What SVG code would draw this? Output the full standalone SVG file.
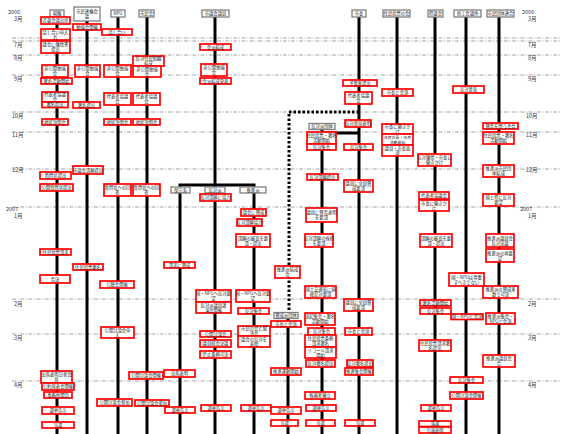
<svg xmlns="http://www.w3.org/2000/svg" width="565" height="434" viewBox="0 0 565 434">
<style>
.b{fill:#fff;stroke:#f00;stroke-width:1.7}
.h{fill:#fff;stroke:#808080;stroke-width:1.3}
text{font-family:"Noto Sans CJK JP","Noto Sans",sans-serif;fill:#222}
.t{font-size:4.3px;text-anchor:middle}
.s{font-size:3.9px}
.ml{font-size:5.5px;fill:#333}
.v{stroke:#000;stroke-width:3;fill:none}
.d{stroke:#000;stroke-width:3;fill:none;stroke-dasharray:2.5 2}
.m{stroke:#9a9a9a;stroke-width:0.9;stroke-dasharray:4 1.6 1 1.6;fill:none}
</style>
<rect width="565" height="434" fill="#fff"/>
<g id="months">
<path class="m" d="M12 38H560M12 41H560M12 55H560M12 75H560M12 112H560M12 132H560M12 169H560M12 207H560M12 299H560M12 334H560M12 381H560"/>
<text class="ml" x="8" y="14">2006</text><text class="ml" x="14" y="20.5">3月</text>
<text class="ml" x="14" y="47">7月</text><text class="ml" x="14" y="60">8月</text><text class="ml" x="14" y="81">9月</text>
<text class="ml" x="12" y="118">10月</text><text class="ml" x="12" y="137">11月</text><text class="ml" x="12" y="172">12月</text>
<text class="ml" x="6" y="211">2007</text><text class="ml" x="14" y="217.5">1月</text>
<text class="ml" x="14" y="306">2月</text><text class="ml" x="14" y="340">3月</text><text class="ml" x="14" y="387">4月</text>
<text class="ml" x="522" y="14">2006</text><text class="ml" x="528" y="20.5">3月</text>
<text class="ml" x="528" y="47">7月</text><text class="ml" x="528" y="60">8月</text><text class="ml" x="528" y="81">9月</text>
<text class="ml" x="526" y="118">10月</text><text class="ml" x="526" y="137">11月</text><text class="ml" x="526" y="172">12月</text>
<text class="ml" x="520" y="211">2007</text><text class="ml" x="528" y="217.5">1月</text>
<text class="ml" x="528" y="306">2月</text><text class="ml" x="528" y="340">3月</text><text class="ml" x="528" y="387">4月</text>
</g>
<g id="connectors">
<path class="v" d="M57 17V434M87 21V434M118 17V434M147 17V434M215 17V434M359 17V434M397 17V434M435 17V434M466 17V434M499 17V434"/>
<path class="v" d="M180 185V434M254 185V434M178.5 185H255.5"/>
<path class="v" d="M322 129V434M322 133H360"/>
<path class="v" d="M288 318V434"/>
<path class="d" d="M289 112H358M289 114V313"/>
</g>
<g id="h1"><rect class="h" x="50" y="10" width="14" height="7"/><text class="t" x="57" y="15.3">現職</text></g>
<g id="h2"><rect class="h" x="74" y="7" width="26" height="14"/><text class="t" x="87" y="12.5">市民連絡会</text><text class="t" x="87" y="18">議</text></g>
<g id="h3"><rect class="h" x="111" y="10" width="14" height="7"/><text class="t" x="118" y="15.3">NPO</text></g>
<g id="h4"><rect class="h" x="139" y="10" width="15" height="7"/><text class="t" x="146.5" y="15.3">市民会</text></g>
<g id="h5"><rect class="h" x="202" y="10" width="27" height="7"/><text class="t" x="215.5" y="15.3">市議会議員</text></g>
<g id="h6"><rect class="h" x="352" y="10" width="14" height="7"/><text class="t" x="359" y="15.3">市長</text></g>
<g id="h7"><rect class="h" x="383" y="10" width="27" height="7"/><text class="t" x="396.5" y="15.3">住民投票の会</text></g>
<g id="h8"><rect class="h" x="428" y="10" width="15" height="7"/><text class="t" x="435.5" y="15.3">県議会</text></g>
<g id="h9"><rect class="h" x="454" y="10" width="27" height="7"/><text class="t" x="467.5" y="15.3">商工会議所</text></g>
<g id="h10"><rect class="h" x="487" y="10" width="27" height="7"/><text class="t" x="500.5" y="15.3">市民団体連合</text></g>
<g id="h11"><rect class="h" x="171" y="187" width="19" height="6"/><text class="t" x="180.5" y="191.6">保守系</text></g>
<g id="h12"><rect class="h" x="205" y="187" width="20" height="6"/><text class="t" x="215" y="191.6">反対派</text></g>
<g id="h13"><rect class="h" x="240" y="187" width="26" height="6"/><text class="t" x="253" y="191.6">推進派</text></g>
<g id="h14"><rect class="h" x="309" y="123.5" width="26" height="6"/><text class="t" x="322" y="128.1">反対派団体</text></g>
<g id="h15"><rect class="h" x="274" y="312.5" width="24" height="6"/><text class="t" x="286" y="317.1">賛成派団体</text></g>

<g id="c1a"><rect class="b" x="41" y="17" width="29" height="7"/><text class="t" x="55.5" y="22">近畿会議出席</text></g>
<g id="c1b"><rect class="b" x="41" y="29" width="29" height="11"/><text class="t" x="55.5" y="33.8">話し合い申入</text><text class="t" x="55.5" y="38.6">れ</text></g>
<g id="c1c"><rect class="b" x="41" y="41" width="29" height="12"/><text class="t" x="55.5" y="46">議会に陳情書</text><text class="t" x="55.5" y="51">提出</text></g>
<g id="c1d"><rect class="b" x="42" y="65" width="26" height="12"/><text class="t" x="55" y="70">非公開勉強</text><text class="t" x="55" y="75">会</text></g>
<g id="c1e"><rect class="b" x="41" y="78" width="31" height="6"/><text class="t" x="56.5" y="82.6">署名活動開始</text></g>
<g id="c1f"><rect class="b" x="42" y="92" width="26" height="10"/><text class="t" x="55" y="96.3">代表者協議</text><text class="t" x="55" y="100.8">会</text></g>
<g id="c1g"><rect class="b" x="42" y="102" width="26" height="5.5"/><text class="t" x="55" y="106.3">署名提出</text></g>
<g id="c1h"><rect class="b" x="42" y="119" width="26" height="6"/><text class="t" x="55" y="123.6">地区説明会</text></g>
<g id="c1i"><rect class="b" x="40" y="172" width="31" height="7"/><text class="t" x="55.5" y="177">質問状提出</text></g>
<g id="c1j"><rect class="b" x="40" y="184" width="33" height="7"/><text class="t" x="56.5" y="189">公開質問状提出</text></g>
<g id="c1k"><rect class="b" x="40" y="249" width="31" height="6"/><text class="t" x="55.5" y="253.6">住民投票請求</text></g>
<g id="c1l"><rect class="b" x="40" y="275" width="30" height="8"/><text class="t" x="55" y="280.6">否決</text></g>
<g id="c1m"><rect class="b" x="41" y="371" width="31" height="12"/><text class="t" x="56.5" y="376">出馬表明記者会</text><text class="t" x="56.5" y="381">見</text></g>
<g id="c1n"><rect class="b" x="42" y="383" width="32" height="7"/><text class="t" x="58" y="388">公約発表会開催</text></g>
<g id="c1o"><rect class="b" x="44" y="392" width="28" height="6"/><text class="t" x="58" y="396.6">事務所開設</text></g>
<g id="c1p"><rect class="b" x="42" y="407" width="32" height="7"/><text class="t" x="58" y="412">選挙告示</text></g>
<g id="c1q"><rect class="b" x="42" y="422" width="32" height="6"/><text class="t" x="58" y="426.6">当選</text></g>

<g id="c2a"><rect class="b" x="73" y="24" width="28" height="6"/><text class="t" x="87" y="28.6">勉強会開催</text></g>
<g id="c2b"><rect class="b" x="75" y="65" width="25" height="12"/><text class="t" x="87.5" y="70">非公開勉強</text><text class="t" x="87.5" y="75">会</text></g>
<g id="c2c"><rect class="b" x="73" y="102" width="27" height="6"/><text class="t" x="86.5" y="106.6">署名提出</text></g>
<g id="c2d"><rect class="b" x="73" y="166" width="30" height="8"/><text class="t" x="88" y="171.6">市議会請願提出</text></g>
<g id="c2e"><rect class="b" x="73" y="264" width="30" height="6"/><text class="t" x="88" y="268.6">住民投票署名</text></g>

<g id="c3a"><rect class="b" x="102" y="29" width="30" height="6"/><text class="t" x="117" y="33.6">話し合い</text></g>
<g id="c3b"><rect class="b" x="104" y="65" width="27" height="12"/><text class="t" x="117.5" y="70">非公開勉強</text><text class="t" x="117.5" y="75">会</text></g>
<g id="c3c"><rect class="b" x="104" y="93" width="27" height="12"/><text class="t" x="117.5" y="98">代表者協議</text><text class="t" x="117.5" y="103">会</text></g>
<g id="c3d"><rect class="b" x="104" y="119" width="27" height="6"/><text class="t" x="117.5" y="123.6">地区説明会</text></g>
<g id="c3e"><rect class="b" x="104" y="184" width="27" height="12"/><text class="t" x="117.5" y="189">質問状への回</text><text class="t" x="117.5" y="194">答</text></g>
<g id="c3f"><rect class="b" x="100" y="281" width="34" height="7"/><text class="t" x="117" y="286">公聴会開催</text></g>
<g id="c3g"><rect class="b" x="101" y="327" width="33" height="11"/><text class="t" x="117.5" y="331.8">公開討論会申</text><text class="t" x="117.5" y="336.6">入</text></g>
<g id="c3h"><rect class="b" x="97" y="399" width="35" height="7"/><text class="t" x="114.5" y="404">公開討論会参加</text></g>

<g id="c4a"><rect class="b" x="133" y="56" width="31" height="10"/><text class="t" x="148.5" y="60.3">反対住民組織</text><text class="t" x="148.5" y="64.8">結成</text></g>
<g id="c4b"><rect class="b" x="133" y="66" width="28" height="11"/><text class="t" x="147" y="70.8">非公開勉強</text><text class="t" x="147" y="75.6">会</text></g>
<g id="c4c"><rect class="b" x="133" y="93" width="27" height="12"/><text class="t" x="146.5" y="98">代表者協議</text><text class="t" x="146.5" y="103">会</text></g>
<g id="c4d"><rect class="b" x="133" y="119" width="27" height="6"/><text class="t" x="146.5" y="123.6">地区説明会</text></g>
<g id="c4e"><rect class="b" x="133" y="184" width="27" height="12"/><text class="t" x="146.5" y="189">質問状への回</text><text class="t" x="146.5" y="194">答</text></g>
<g id="c4f"><rect class="b" x="129" y="372" width="34" height="7"/><text class="t" x="146" y="377">公開討論会開催</text></g>
<g id="c4g"><rect class="b" x="135" y="400" width="34" height="6"/><text class="t" x="152" y="404.6">公開討論会参加</text></g>

<g id="c5a"><rect class="b" x="200" y="44" width="31" height="6"/><text class="t" x="215.5" y="48.6">会派結成</text></g>
<g id="c5b"><rect class="b" x="201" y="64" width="26" height="12"/><text class="t" x="214" y="69">非公開勉強</text><text class="t" x="214" y="74">会</text></g>
<g id="c5c"><rect class="b" x="200" y="78" width="31" height="6"/><text class="t" x="215.5" y="82.6">会派結成発表</text></g>

<g id="c5l1"><rect class="b" x="164" y="262" width="31" height="6"/><text class="t" x="179.5" y="266.6">請求に賛成</text></g>
<g id="c5l2"><rect class="b" x="164" y="370" width="31" height="7"/><text class="t" x="179.5" y="375">出馬表明</text></g>
<g id="c5l3"><rect class="b" x="165" y="407" width="30" height="6"/><text class="t" x="180" y="411.6">選挙告示</text></g>

<g id="c5m1"><rect class="b" x="200" y="194" width="31" height="7"/><text class="t" x="215.5" y="199">反対請願に協力</text></g>
<g id="c5m2"><rect class="b" x="196" y="290" width="35" height="12"/><text class="t" x="213.5" y="295">国・NPOへ反対要</text><text class="t" x="213.5" y="300">望</text></g>
<g id="c5m3"><rect class="b" x="196" y="302" width="35" height="11"/><text class="t" x="213.5" y="306.8">反対派議員講</text><text class="t" x="213.5" y="311.6">演会開催</text></g>
<g id="c5m4"><rect class="b" x="200" y="331" width="31" height="6"/><text class="t" x="215.5" y="335.6">公開討論会</text></g>
<g id="c5m5"><rect class="b" x="200" y="340" width="31" height="7"/><text class="t" x="215.5" y="345">議員総会決議</text></g>
<g id="c5m6"><rect class="b" x="200" y="351" width="31" height="7"/><text class="t" x="215.5" y="356">禁止条例可決</text></g>
<g id="c5m7"><rect class="b" x="201" y="405" width="30" height="6"/><text class="t" x="216" y="409.6">選挙告示</text></g>

<g id="c5r1"><rect class="b" x="241" y="209" width="25" height="7"/><text class="t" x="253.5" y="214">議会に賛成</text></g>
<g id="c5r2"><rect class="b" x="237" y="219" width="25" height="7"/><text class="t" x="249.5" y="224">反対請願協力</text></g>
<g id="c5r3"><rect class="b" x="236" y="234" width="34" height="13"/><text class="t" x="253" y="239.5">請願の審査を要</text><text class="t" x="253" y="244.5">請・提出</text></g>
<g id="c5r4"><rect class="b" x="236" y="290" width="34" height="12"/><text class="t" x="253" y="295">国・NPOへ反対要</text><text class="t" x="253" y="300">望</text></g>
<g id="c5r5"><rect class="b" x="238" y="308" width="31" height="6"/><text class="t" x="253.5" y="312.6">反対集会</text></g>
<g id="c5r6"><rect class="b" x="238" y="326" width="32" height="10"/><text class="t" x="254" y="330.3">市民の会と懇</text><text class="t" x="254" y="334.8">談会</text></g>
<g id="c5r7"><rect class="b" x="238" y="336" width="32" height="11"/><text class="t" x="254" y="340.8">議会の反対を</text><text class="t" x="254" y="345.6">表明</text></g>
<g id="c5r8"><rect class="b" x="241" y="405" width="30" height="6"/><text class="t" x="256" y="409.6">選挙告示</text></g>

<g id="d1"><rect class="b" x="275" y="266" width="25" height="12"/><text class="t" x="287.5" y="271">推進派結成</text><text class="t" x="287.5" y="276">会</text></g>
<g id="d2"><rect class="b" x="271" y="321" width="30" height="6"/><text class="t" x="286" y="325.6">市長と会談</text></g>
<g id="d3"><rect class="b" x="271" y="368" width="30" height="7"/><text class="t" x="286" y="373">推進運動開始</text></g>
<g id="d4"><rect class="b" x="271" y="407" width="30" height="7"/><text class="t" x="286" y="412">選挙告示</text></g>
<g id="d5"><rect class="b" x="271" y="420" width="27" height="6"/><text class="t" x="284.5" y="424.6">当選</text></g>

<g id="e1"><rect class="b" x="307" y="132" width="29" height="12"/><text class="t" x="321.5" y="137">住民投票・署名</text><text class="t" x="321.5" y="142">活動開始</text></g>
<g id="e2"><rect class="b" x="307" y="144" width="29" height="6"/><text class="t" x="321.5" y="148.6">反対集会</text></g>
<g id="e3"><rect class="b" x="307" y="174" width="31" height="6"/><text class="t" x="322.5" y="178.6">反対請願提出</text></g>
<g id="e4"><rect class="b" x="306" y="208" width="31" height="14"/><text class="t" x="321.5" y="214">議員に賛否表明</text><text class="t" x="321.5" y="219">を要請</text></g>
<g id="e5"><rect class="b" x="305" y="234" width="28" height="13"/><text class="t" x="319" y="239.5">反対請願の採択</text><text class="t" x="319" y="244.5">を要請</text></g>
<g id="e6"><rect class="b" x="305" y="286" width="31" height="12"/><text class="t" x="320.5" y="291">国土交通省に直</text><text class="t" x="320.5" y="296">接反対要請</text></g>
<g id="e7"><rect class="b" x="305" y="313" width="30" height="12"/><text class="t" x="320" y="318">決起集会・署名</text><text class="t" x="320" y="323">活動開始</text></g>
<g id="e8"><rect class="b" x="308" y="328" width="27" height="7"/><text class="t" x="321.5" y="333">反対集会</text></g>
<g id="e9"><rect class="b" x="305" y="335" width="31" height="12"/><text class="t" x="320.5" y="340">住民投票条例</text><text class="t" x="320.5" y="345">請求署名</text></g>
<g id="e10"><rect class="b" x="305" y="347" width="31" height="11"/><text class="t" x="320.5" y="351.8">リコール請求</text><text class="t" x="320.5" y="356.6">開始</text></g>
<g id="e11"><rect class="b" x="306" y="360" width="29" height="7"/><text class="t" x="320.5" y="365">反対署名提出</text></g>
<g id="e12"><rect class="b" x="305" y="392" width="30" height="7"/><text class="t" x="320" y="397">候補者擁立</text></g>
<g id="e13"><rect class="b" x="306" y="405" width="30" height="6"/><text class="t" x="321" y="409.6">選挙告示</text></g>
<g id="e14"><rect class="b" x="306" y="420" width="29" height="6"/><text class="t" x="320.5" y="424.6">当選</text></g>

<g id="f1"><rect class="b" x="343" y="80" width="34" height="6"/><text class="t" x="360" y="84.6">予算案提出</text></g>
<g id="f2"><rect class="b" x="345" y="92" width="27" height="12"/><text class="t" x="358.5" y="97">代表者協議</text><text class="t" x="358.5" y="102">会</text></g>
<g id="f3"><rect class="b" x="345" y="120" width="26" height="7"/><text class="t" x="358" y="125">反対意見表明</text></g>
<g id="f4"><rect class="b" x="344" y="144" width="29" height="6"/><text class="t" x="358.5" y="148.6">反対集会</text></g>
<g id="f5"><rect class="b" x="344" y="180" width="29" height="12"/><text class="t" x="358.5" y="185">議員に全員賛</text><text class="t" x="358.5" y="190">成要請</text></g>
<g id="f6"><rect class="b" x="344" y="299" width="29" height="12"/><text class="t" x="358.5" y="304">議員に全員賛</text><text class="t" x="358.5" y="309">成要請</text></g>
<g id="f7"><rect class="b" x="345" y="328" width="27" height="7"/><text class="t" x="358.5" y="333">市長と会談</text></g>
<g id="f8"><rect class="b" x="347" y="360" width="26" height="7"/><text class="t" x="360" y="365">反対署名提出</text></g>
<g id="f9"><rect class="b" x="345" y="368" width="28" height="7"/><text class="t" x="359" y="373">推進集会開催</text></g>
<g id="f10"><rect class="b" x="345" y="420" width="30" height="6"/><text class="t" x="360" y="424.6">当選</text></g>

<g id="g1"><rect class="b" x="382" y="89" width="31" height="7"/><text class="t" x="397.5" y="94">市長と会談</text></g>
<g id="g2"><rect class="b" x="382" y="124" width="31" height="10"/><text class="t" x="397.5" y="128.2">市長に働きか</text><text class="t" x="397.5" y="132.8">け</text></g>
<g id="g3"><rect class="b" x="382" y="134" width="31" height="11"/><text class="t s" x="397.5" y="138.6">住民投票・市民</text><text class="t s" x="397.5" y="143.6">活動開始</text></g>
<g id="g4"><rect class="b" x="382" y="145" width="31" height="11"/><text class="t" x="397.5" y="149.6">議員・市長面</text><text class="t" x="397.5" y="154.4">談</text></g>

<g id="k1"><rect class="b" x="418" y="154" width="33" height="12"/><text class="t" x="434.5" y="159">反対陳情・市長に</text><text class="t" x="434.5" y="164">働きかけ</text></g>
<g id="k2"><rect class="b" x="419" y="192" width="30" height="7"/><text class="t" x="434" y="197">代表者協議会</text></g>
<g id="k3"><rect class="b" x="419" y="200" width="30" height="11"/><text class="t" x="434" y="204.8">市長に働きか</text><text class="t" x="434" y="209.6">け</text></g>
<g id="k4"><rect class="b" x="420" y="234" width="32" height="13"/><text class="t" x="436" y="239.5">請願の審査を要</text><text class="t" x="436" y="244.5">請・提出</text></g>
<g id="k5"><rect class="b" x="420" y="300" width="31" height="6"/><text class="t" x="435.5" y="304.6">署名活動開始</text></g>
<g id="k6"><rect class="b" x="420" y="308" width="31" height="6"/><text class="t" x="435.5" y="312.6">反対集会</text></g>
<g id="k7"><rect class="b" x="419" y="340" width="32" height="11"/><text class="t" x="435" y="344.8">住民投票請求署</text><text class="t" x="435" y="349.6">名提出</text></g>
<g id="k8"><rect class="b" x="421" y="405" width="30" height="6"/><text class="t" x="436" y="409.6">選挙告示</text></g>
<g id="k9"><rect class="b" x="419" y="421" width="32" height="5.5"/><text class="t" x="435" y="425.3">落選</text></g>
<g id="k10"><rect class="b" x="419" y="427" width="32" height="6"/><text class="t" x="435" y="431.6">引退表明</text></g>

<g id="m1"><rect class="b" x="453" y="86" width="31" height="7"/><text class="t" x="468.5" y="91">反対意見</text></g>
<g id="m2"><rect class="b" x="449" y="273" width="35" height="13"/><text class="t" x="466.5" y="278.5">国・NPOは尊重</text><text class="t" x="466.5" y="283.5">すべきでない</text></g>
<g id="m3"><rect class="b" x="451" y="314" width="32" height="5.5"/><text class="t" x="467" y="318.3">国・NPOと会談</text></g>
<g id="m4"><rect class="b" x="450" y="377" width="33" height="6"/><text class="t" x="466.5" y="381.6">反対集会</text></g>
<g id="m5"><rect class="b" x="450" y="392" width="33" height="7"/><text class="t" x="466.5" y="397">公開討論会開催</text></g>

<g id="p1"><rect class="b" x="483" y="123" width="35" height="6"/><text class="t" x="500.5" y="127.6">賛否を問う会合</text></g>
<g id="p2"><rect class="b" x="483" y="132" width="31" height="12"/><text class="t" x="498.5" y="137">住民投票・署名</text><text class="t" x="498.5" y="142">活動開始</text></g>
<g id="p3"><rect class="b" x="483" y="165" width="31" height="12"/><text class="t" x="498.5" y="170">推進派市民団</text><text class="t" x="498.5" y="175">体結成</text></g>
<g id="p4"><rect class="b" x="483" y="194" width="31" height="12"/><text class="t" x="498.5" y="199">国と県に反対</text><text class="t" x="498.5" y="204">要望</text></g>
<g id="p5"><rect class="b" x="486" y="234" width="28" height="13"/><text class="t" x="500" y="239.5">推進派議員会</text><text class="t" x="500" y="244.5">反対決議</text></g>
<g id="p6"><rect class="b" x="486" y="249" width="28" height="13"/><text class="t" x="500" y="254.5">推進派の再要</text><text class="t" x="500" y="259.5">望</text></g>
<g id="p7"><rect class="b" x="483" y="286" width="35" height="12"/><text class="t" x="500.5" y="291">推進派の賛成多</text><text class="t" x="500.5" y="296">数で可決</text></g>
<g id="p8"><rect class="b" x="486" y="313" width="29" height="11"/><text class="t" x="500.5" y="317.8">推進派集会・</text><text class="t" x="500.5" y="322.6">NPOと会談</text></g>
<g id="p9"><rect class="b" x="483" y="355" width="32" height="12"/><text class="t" x="499" y="360">推進派議員会</text><text class="t" x="499" y="365">合</text></g>
</svg>
